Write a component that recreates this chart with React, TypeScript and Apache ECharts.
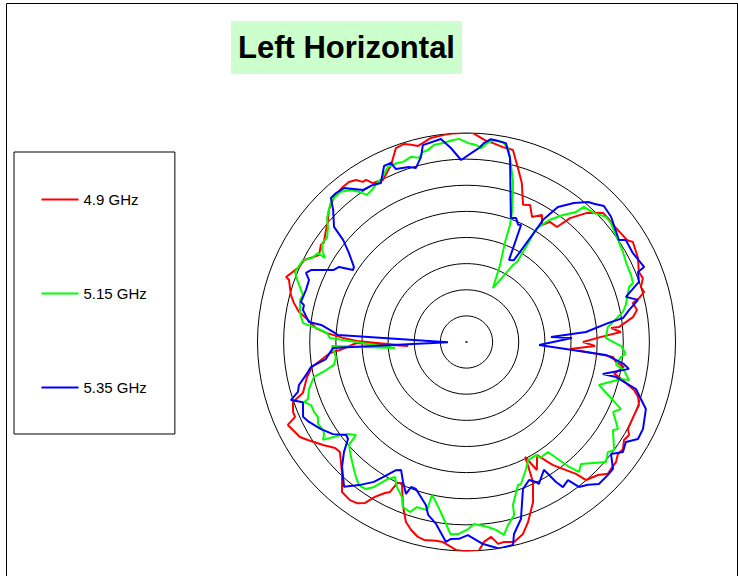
import React, { useEffect, useRef } from "react";
import * as echarts from "echarts";

// Radial values in dB (axis -40 … 0, 5 dB rings); angle in degrees, counter-clockwise from east.
const radiusTicks = { min: -40, max: 0, step: 5 };
const seriesNames = ["4.9 GHz", "5.15 GHz", "5.35 GHz"];
const seriesColors = ["#ff0000", "#00ff00", "#0000ff"];

const red49: [number, number][] = [
  [-20.15, 356.1], [-15.4, 358.2], [-17.7, 0], [-14.4, 2.1], [-10.4, 3.7], [-12.2, 5.5], [-10.7, 5.6],
  [-7.8, 8.5], [-6.8, 10.6], [-7.3, 13.2], [-5.9, 14.3], [-4.7, 15.7], [-5.0, 17.5], [-4.1, 19.9],
  [-4.4, 22.1], [-3.45, 26.1], [-2.85, 31.0], [-3.6, 32.4], [-3.9, 35.6], [-4.1, 38.6], [-4.0, 41.2],
  [-4.05, 43.4], [-6.2, 47.0], [-9.1, 50.1], [-12.0, 51.8], [-12.0, 55.2], [-13.35, 57.2], [-11.7, 59.3],
  [-13.0, 62.3], [-11.1, 65.1], [-11.6, 67.6], [-7.8, 70.8], [-5.3, 73.5], [-2.2, 76.4], [-2.05, 79.4],
  [-1.6, 82.4], [-1.2, 84.8], [0, 88.2], [0, 91.0], [0, 94.2], [-0.15, 96.5], [-0.35, 99.9],
  [-1.0, 102.3], [-1.35, 103.9], [-0.8, 105.7], [-0.25, 107.5], [-0.5, 110.0], [-3.2, 113.1],
  [-5.1, 117.3], [-4.7, 120.5], [-3.5, 121.8], [-3.5, 122.9], [-2.45, 124.3], [-2.0, 126.3],
  [-2.05, 128.6], [-2.4, 132.4], [-3.5, 136.2], [-4.9, 139.1], [-5.6, 141.4], [-6.7, 145.1],
  [-6.5, 146.3], [-7.25, 149.5], [-5.2, 153.2], [-4.9, 155.9], [-3.3, 160.2], [-4.0, 160.7],
  [-5.2, 165.0], [-6.15, 167.3], [-7.4, 169.8], [-9.4, 172.1], [-11.05, 174.7], [-13.05, 176.3],
  [-16.35, 178.1], [-19.0, 179.5], [-28.8, 183.9], [-19.0, 180.5], [-15.7, 183.6], [-13.8, 184.6],
  [-10.05, 189.2], [-8.75, 192.4], [-7.2, 197.3], [-4.85, 199.1], [-4.2, 202.0], [-4.2, 203.6],
  [-2.3, 204.9], [-3.3, 209.7], [-4.3, 211.7], [-6.2, 215.7], [-7.7, 218.9], [-7.9, 221.0],
  [-5.4, 226.5], [-2.7, 230.3], [-2.4, 233.6], [-2.7, 235.8], [-3.6, 237.8], [-5.55, 239.4],
  [-7.15, 241.6], [-7.8, 243.0], [-9.9, 243.8], [-10.3, 245.4], [-6.5, 248.7], [-3.65, 251.4],
  [-2.5, 253.6], [-1.55, 256.0], [-1.25, 257.9], [-1.5, 261.3], [-1.45, 263.3], [-0.15, 267.1],
  [0, 269.0], [0, 273.4], [-1.6, 275.0], [-2.4, 277.2], [-0.9, 278.9], [-1.05, 280.6], [-0.65, 283.4],
  [-1.7, 286.4], [-3.6, 288.9], [-6.85, 292.6], [-10.35, 295.4], [-12.9, 296.2], [-15.3, 297.0],
  [-12.05, 298.8], [-14.5, 302.0], [-12.2, 304.2], [-11.2, 305.1], [-7.2, 309.7], [-5.05, 310.9],
  [-4.2, 314.7], [-3.0, 317.0], [-3.2, 318.7], [-3.3, 321.2], [-3.95, 323.5], [-3.7, 325.6],
  [-4.5, 328.1], [-4.15, 330.2], [-4.9, 331.7], [-5.0, 336.5], [-4.85, 339.9], [-5.5, 342.2],
  [-6.65, 344.0], [-10.05, 347.1], [-11.1, 347.8], [-9.5, 351.0], [-11.15, 352.4], [-11.8, 354.2],
  [-20.15, 356.1],
];

const green515: [number, number][] = [
  [-9.4, 355.7], [-10.4, 358.5], [-13.3, 1.6], [-12.8, 6.1], [-11.7, 7.8], [-9.5, 10.9], [-8.7, 13.1],
  [-7.15, 18.7], [-6.2, 19.5], [-6.0, 22.2], [-5.9, 26.3], [-5.45, 29.9], [-5.05, 34.0], [-4.2, 39.5],
  [-4.15, 41.9], [-5.3, 45.3], [-5.75, 49.0], [-7.45, 49.9], [-9.5, 52.8], [-11.8, 55.9], [-14.6, 58.4],
  [-18.1, 58.0], [-21.9, 57.7], [-22.8, 58.9], [-28.5, 63.9], [-23.9, 66.5], [-19.5, 68.9], [-16.1, 69.6],
  [-13.65, 70.7], [-9.95, 72.8], [-7.75, 74.0], [-3.8, 76.7], [-2.05, 77.9], [-1.1, 79.7], [-0.95, 82.0],
  [-1.7, 84.1], [-2.8, 85.7], [-2.25, 87.2], [-1.9, 89.6], [-1.1, 92.1], [-1.25, 93.8], [-1.65, 96.7],
  [-1.8, 99.4], [-2.5, 101.3], [-2.7, 102.9], [-3.6, 104.5], [-3.0, 106.7], [-3.45, 109.4],
  [-3.25, 111.2], [-3.3, 114.2], [-4.7, 117.3], [-5.1, 119.4], [-5.75, 121.9], [-6.0, 124.1],
  [-4.8, 125.4], [-3.35, 127.5], [-2.45, 130.1], [-2.55, 133.4], [-3.0, 134.9], [-4.3, 138.4],
  [-5.65, 140.5], [-6.7, 143.3], [-6.5, 145.6], [-7.2, 147.5], [-8.5, 149.3], [-6.85, 149.1],
  [-6.35, 151.5], [-5.0, 153.4], [-4.55, 157.8], [-5.75, 160.4], [-7.45, 164.0], [-7.15, 165.8],
  [-7.65, 170.1], [-8.5, 173.4], [-11.25, 174.7], [-13.25, 176.3], [-13.85, 178.3], [-26.3, 184.8],
  [-14.25, 181.7], [-14.85, 186.6], [-14.25, 189.8], [-11.95, 191.8], [-10.05, 192.9], [-8.55, 196.6],
  [-7.75, 199.8], [-6.85, 200.3], [-7.9, 202.1], [-7.9, 204.7], [-8.15, 206.8], [-7.55, 208.9],
  [-7.8, 211.5], [-7.55, 212.9], [-6.75, 214.3], [-10.1, 216.5], [-11.3, 217.8], [-12.35, 220.1],
  [-10.1, 221.2], [-8.8, 224.9], [-7.4, 228.7], [-6.6, 230.7], [-5.75, 233.1], [-5.9, 235.6],
  [-7.1, 237.5], [-8.1, 238.4], [-9.8, 240.2], [-10.75, 242.1], [-9.2, 244.4], [-7.85, 247.4],
  [-6.15, 248.9], [-5.7, 251.6], [-7.0, 253.3], [-6.95, 256.8], [-10.0, 257.3], [-8.3, 259.9],
  [-4.95, 263.6], [-3.1, 265.2], [-3.2, 267.5], [-4.2, 270.5], [-5.15, 272.4], [-4.35, 276.6],
  [-3.6, 278.9], [-2.4, 281.0], [-4.1, 282.8], [-5.65, 285.4], [-7.55, 285.9], [-10.9, 289.8],
  [-10.9, 291.0], [-13.15, 295.1], [-14.5, 297.5], [-14.6, 301.6], [-13.7, 302.4], [-13.8, 306.5],
  [-9.05, 309.4], [-7.1, 310.9], [-8.0, 313.2], [-4.8, 319.3], [-5.7, 322.1], [-5.0, 323.8],
  [-7.3, 329.0], [-6.55, 330.1], [-8.9, 334.5], [-7.8, 336.6], [-13.35, 342.0], [-9.6, 346.5],
  [-8.05, 346.8], [-9.4, 349.9], [-11.05, 351.3], [-10.3, 354.5], [-9.4, 355.7],
];

const blue535: [number, number][] = [
  [-26.1, 357.6], [-19.8, 2.2], [-23.8, 3.4], [-17.05, 4.8], [-12.7, 7.6], [-9.7, 8.7], [-8.3, 11.1],
  [-6.2, 13.8], [-8.3, 15.8], [-5.05, 19.2], [-4.55, 22.2], [-3.1, 22.9], [-3.9, 28.1], [-3.8, 32.6],
  [-4.9, 33.8], [-3.4, 40.9], [-3.0, 44.7], [-4.0, 47.3], [-4.5, 49.0], [-6.4, 52.3], [-8.8, 55.9],
  [-12.4, 57.9], [-14.8, 58.2], [-21.9, 59.9], [-22.3, 62.6], [-15.3, 65.0], [-15.5, 66.2],
  [-14.45, 68.2], [-14.8, 70.3], [-3.8, 76.7], [-1.2, 78.8], [-0.9, 83.1], [-1.8, 85.0], [-2.8, 86.3],
  [-3.6, 88.0], [-5.15, 91.7], [-2.75, 94.6], [-0.85, 97.2], [-1.4, 102.5], [-3.5, 103.8], [-5.3, 106.2],
  [-4.75, 108.2], [-4.25, 112.2], [-2.8, 112.9], [-2.8, 115.1], [-5.45, 118.3], [-5.0, 120.8],
  [-4.8, 124.2], [-2.35, 128.5], [-2.1, 131.2], [-2.15, 133.3], [-4.1, 135.3], [-6.4, 139.0],
  [-9.35, 140.4], [-11.8, 142.9], [-14.1, 146.3], [-14.3, 147.6], [-11.7, 149.5], [-11.1, 151.5],
  [-7.2, 155.2], [-6.55, 156.7], [-7.6, 158.5], [-7.7, 162.0], [-7.4, 166.4], [-8.1, 167.2],
  [-8.1, 168.9], [-9.6, 172.8], [-12.0, 173.3], [-14.4, 175.7], [-15.4, 176.9], [-36.45, 180.9],
  [-14.4, 182.6], [-12.9, 186.9], [-9.85, 189.1], [-8.65, 191.6], [-6.9, 194.4], [-6.35, 196.5],
  [-4.6, 198.3], [-6.65, 200.2], [-5.6, 204.6], [-6.2, 206.9], [-7.55, 210.9], [-8.95, 214.6],
  [-10.9, 217.7], [-10.7, 219.3], [-8.5, 221.9], [-6.25, 225.1], [-3.7, 229.8], [-5.75, 233.1],
  [-7.9, 236.5], [-9.6, 238.3], [-12.0, 241.2], [-12.5, 242.9], [-10.6, 245.6], [-8.7, 248.3],
  [-10.3, 249.1], [-10.25, 251.0], [-7.85, 256.0], [-6.1, 257.5], [-4.7, 260.5], [-1.55, 264.1],
  [-2.2, 265.5], [-2.3, 267.8], [-3.05, 270.4], [-1.2, 274.7], [0, 278.9], [-0.15, 282.9],
  [-2.15, 283.9], [-4.55, 287.1], [-9.85, 291.0], [-11.0, 294.4], [-10.1, 296.4], [-9.5, 297.0],
  [-11.4, 301.2], [-8.2, 302.6], [-6.65, 303.6], [-7.2, 306.3], [-4.9, 307.8], [-4.1, 310.4],
  [-2.85, 313.0], [-2.85, 316.8], [-2.9, 319.1], [-5.0, 322.2], [-3.4, 324.9], [-4.0, 327.9],
  [-2.3, 330.5], [-2.35, 333.8], [-3.35, 339.5], [-6.35, 344.5], [-10.6, 346.8], [-13.2, 346.8],
  [-8.5, 350.6], [-9.55, 352.0], [-13.2, 354.7], [-26.1, 357.6],
];

const centerPoint: [number, number][] = [[-40, 0]];

const FONT = "'Liberation Sans', Arial, sans-serif";

export default function App() {
  const ref = useRef<HTMLDivElement>(null);
  useEffect(() => {
    if (!ref.current) return;
    const chart = echarts.init(ref.current, undefined, { renderer: "svg" });
    const seriesData = [red49, green515, blue535];
    chart.setOption({
      animation: false,
      backgroundColor: "#ffffff",
      title: {
        text: "Left Horizontal",
        left: 231,
        top: 21,
        backgroundColor: "#ccffcc",
        padding: [11, 7, 11, 7],
        textStyle: { fontFamily: FONT, fontWeight: "bold", fontSize: 31, color: "#000" },
      },
      legend: {
        data: seriesNames,
        orient: "vertical",
        left: 14,
        top: 152,
        padding: [40, 28, 39, 27.5],
        itemGap: 79,
        itemWidth: 37,
        itemHeight: 2,
        icon: "rect",
        borderColor: "#000",
        borderWidth: 1,
        selectedMode: false,
        textStyle: { fontFamily: FONT, fontSize: 15, color: "#000" },
      },
      polar: { center: [466.5, 342], radius: 209 },
      angleAxis: {
        type: "value",
        min: 0,
        max: 360,
        startAngle: 0,
        clockwise: false,
        axisLine: { show: false },
        axisTick: { show: false },
        axisLabel: { show: false },
        splitLine: { show: false },
      },
      radiusAxis: {
        type: "value",
        min: radiusTicks.min,
        max: radiusTicks.max,
        interval: radiusTicks.step,
        axisLine: { show: false },
        axisTick: { show: false },
        axisLabel: { show: false },
        splitLine: { show: true, lineStyle: { color: "#000", width: 1 } },
      },
      graphic: [
        {
          type: "rect",
          shape: { x: 6.5, y: 3.5, width: 731, height: 600 },
          style: { fill: "none", stroke: "#000", lineWidth: 1 },
          silent: true,
          z: -1,
        },
      ],
      series: [
        ...seriesNames.map((name, i) => ({
          name,
          type: "line",
          coordinateSystem: "polar",
          data: seriesData[i],
          showSymbol: false,
          symbol: "none",
          color: seriesColors[i],
          lineStyle: { color: seriesColors[i], width: 2 },
          z: 2 + i,
        })),
        {
          name: "center",
          type: "scatter",
          coordinateSystem: "polar",
          data: centerPoint,
          symbol: "rect",
          symbolSize: 2,
          itemStyle: { color: "#000" },
          silent: true,
        },
      ],
    });
    return () => chart.dispose();
  }, []);
  return (
    <div
      ref={ref}
      style={{ position: "absolute", left: 0, top: 0, width: 738, height: 576 }}
    />
  );
}
